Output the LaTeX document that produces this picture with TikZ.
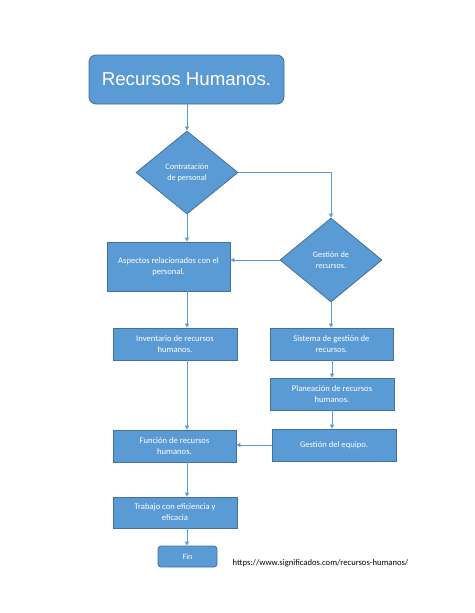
\documentclass[tikz,border=0pt]{standalone}
\usepackage{fontspec}
\setmainfont{Carlito}
\newfontfamily\titlefont{Liberation Sans}
\usetikzlibrary{shapes.geometric,arrows.meta}
\definecolor{boxblue}{HTML}{5B9BD5}
\definecolor{boxedge}{HTML}{41719C}
\begin{document}
\begin{tikzpicture}[x=1pt,y=-1pt,
  blk/.style={draw=boxedge, fill=boxblue, line width=0.8pt, text=white, align=center, inner sep=0pt, font=\fontsize{8.6}{11}\selectfont},
  dia/.style={blk, diamond, font=\fontsize{8.3}{11}\selectfont},
  conn/.style={draw=boxblue, line width=1pt, -{Triangle[length=4pt,width=4pt]}}]
\useasboundingbox[fill=white] (0,0) rectangle (474,613);
\node[blk, rounded corners=7pt, minimum width=195pt, minimum height=49pt, font=\titlefont\fontsize{18.7}{22}\selectfont] (title) at (186.5,79.5) {Recursos Humanos.};
\node[dia, minimum width=102pt, minimum height=83pt] (d1) at (187,172.5) {Contratación\\de personal};
\node[dia, minimum width=102pt, minimum height=84pt] (d2) at (331,260) {Gestión de\\recursos.};
\node[blk, minimum width=123pt, minimum height=49pt] (asp) at (168.5,266.5) {Aspectos relacionados con el\\personal.};
\node[blk, minimum width=124pt, minimum height=32pt] (inv) at (175,344) {Inventario de recursos\\humanos.};
\node[blk, minimum width=123pt, minimum height=32pt] (sis) at (331.5,344) {Sistema de gestión de\\recursos.};
\node[blk, minimum width=124pt, minimum height=32pt] (plan) at (332,394) {Planeación de recursos\\humanos.};
\node[blk, minimum width=124pt, minimum height=32pt] (gest) at (334,445) {Gestión del equipo.};
\node[blk, minimum width=123pt, minimum height=32pt] (fun) at (174.5,446) {Función de recursos\\humanos.};
\node[blk, minimum width=124pt, minimum height=31pt] (trab) at (175,512.5) {Trabajo con eficiencia y\\eficacia};
\node[blk, rounded corners=3pt, minimum width=59pt, minimum height=21pt, font=\fontsize{8}{10}\selectfont] (fin) at (187.5,556.5) {Fin};
\node[font=\fontsize{8.6}{10}\selectfont, inner sep=0pt] (url) at (320.5,563) {https://www.significados.com/recursos-humanos/};
\coordinate (cx) at (187,0);
\coordinate (rx) at (332,0);
\draw[conn] (title.south -| d1.north) -- (d1.north);
\draw[conn] (d1.east) -| (d2.north);
\draw[conn] (d1.south) -- (d1.south |- asp.north);
\draw[conn] (d2.west) -- (d2.west -| asp.east);
\draw[conn] (asp.south -| cx) -- (inv.north -| cx);
\draw[conn] (inv.south -| cx) -- (fun.north -| cx);
\draw[conn] (d2.south) -- (d2.south |- sis.north);
\draw[conn] (sis.south -| rx) -- (plan.north -| rx);
\draw[conn] (plan.south -| rx) -- (gest.north -| rx);
\draw[conn] (gest.west) -- (gest.west -| fun.east);
\draw[conn] (fun.south -| cx) -- (trab.north -| cx);
\draw[conn] (trab.south -| cx) -- (fin.north -| cx);
\end{tikzpicture}
\end{document}
